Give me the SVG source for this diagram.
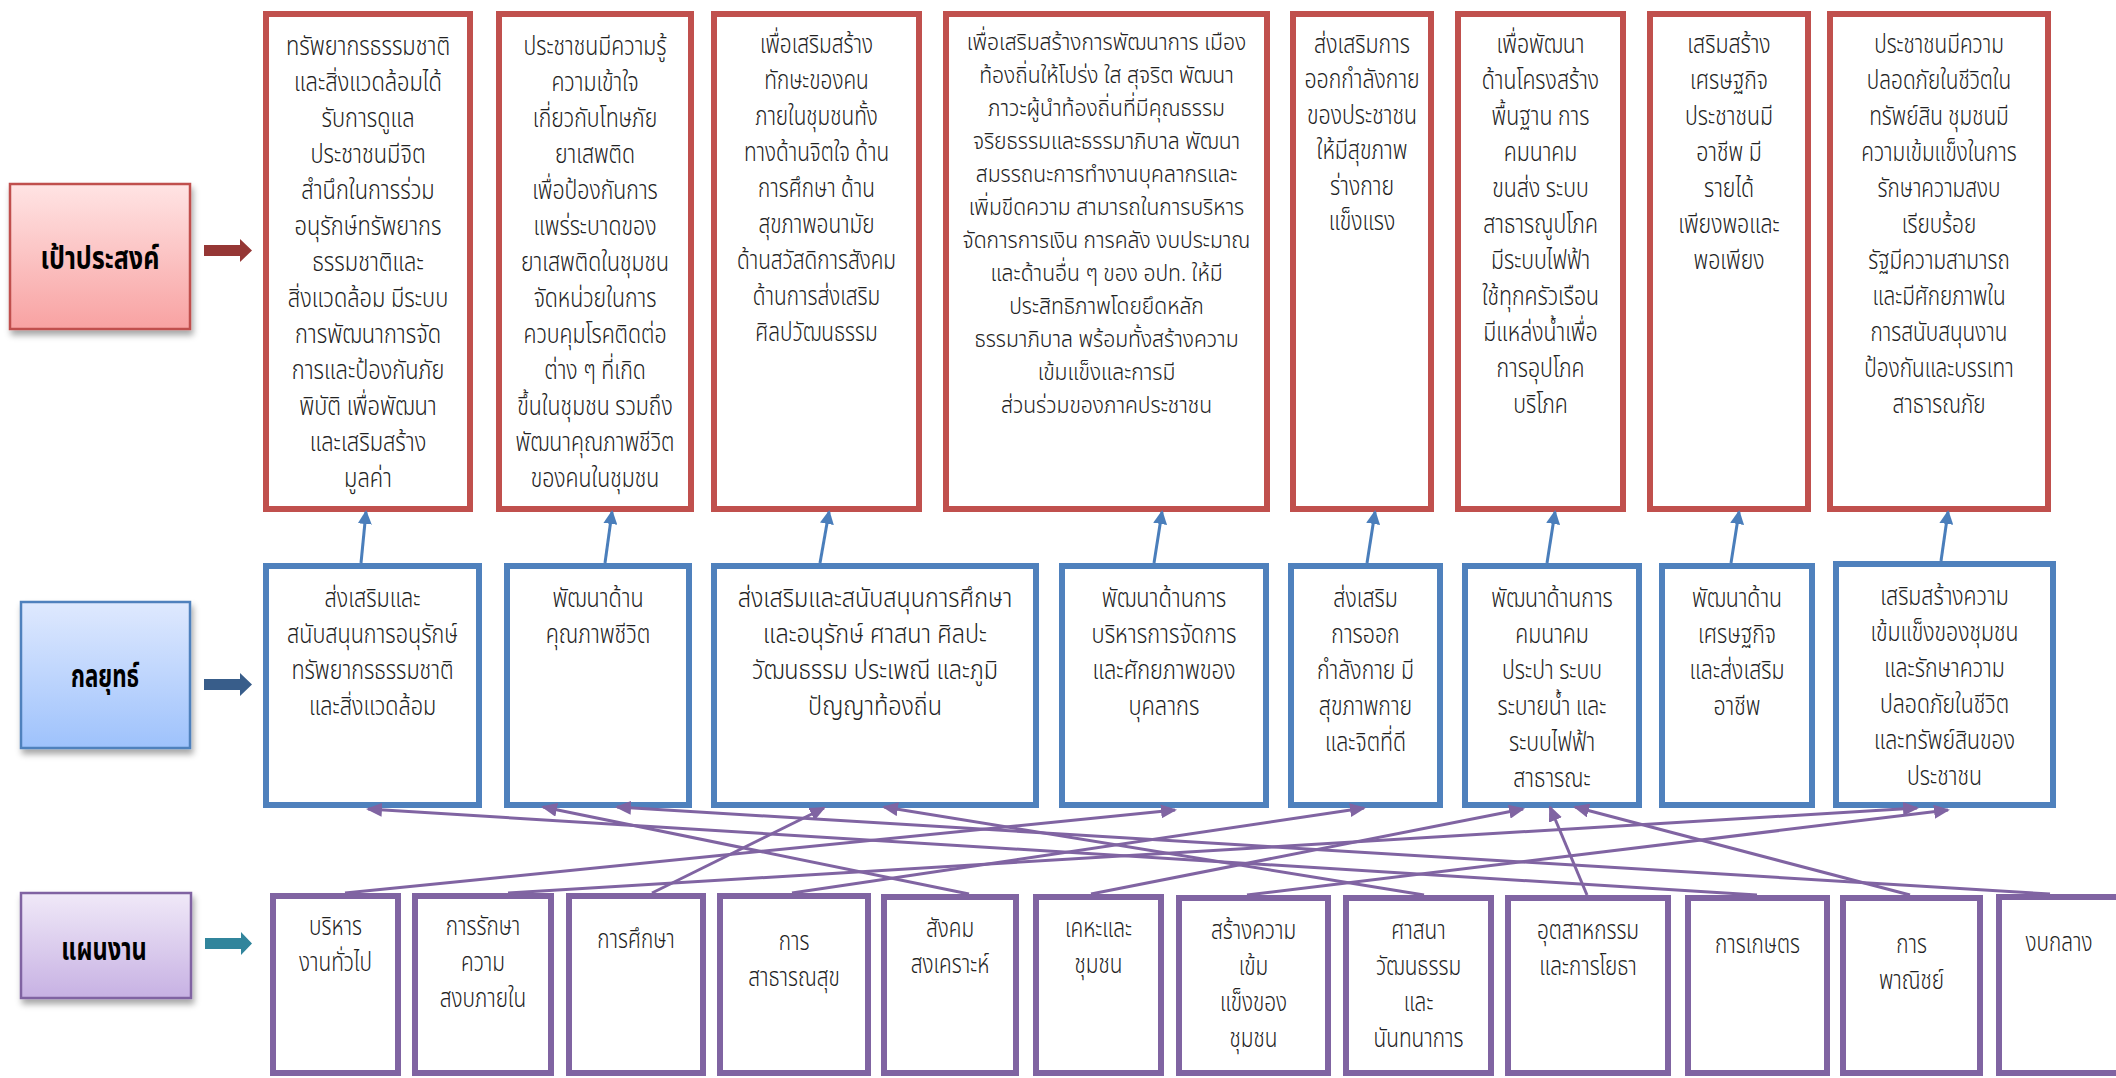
<svg xmlns="http://www.w3.org/2000/svg" width="2116" height="1078" viewBox="0 0 2116 1078">
<defs>
<linearGradient id="gRed" x1="0" y1="0" x2="0" y2="1"><stop offset="0" stop-color="#FFE4E4"/><stop offset="1" stop-color="#F8A2A2"/></linearGradient>
<linearGradient id="gBlue" x1="0" y1="0" x2="0" y2="1"><stop offset="0" stop-color="#DFE9FE"/><stop offset="1" stop-color="#9EC2FC"/></linearGradient>
<linearGradient id="gPur" x1="0" y1="0" x2="0" y2="1"><stop offset="0" stop-color="#F0E9F8"/><stop offset="1" stop-color="#C7B1E3"/></linearGradient>
<filter id="sh" x="-20%" y="-20%" width="140%" height="150%"><feDropShadow dx="2" dy="5" stdDeviation="3" flood-color="#000" flood-opacity="0.35"/></filter>
<marker id="mb" viewBox="0 0 14 14" refX="12" refY="7" markerWidth="14" markerHeight="14" markerUnits="userSpaceOnUse" orient="auto"><path d="M0,0 L14,7 L0,14 Z" fill="#4A7EBB"/></marker>
<marker id="mp" viewBox="0 0 16 14" refX="14" refY="7" markerWidth="16" markerHeight="14" markerUnits="userSpaceOnUse" orient="auto"><path d="M0,0 L16,7 L0,14 Z" fill="#8064A2"/></marker>
</defs>
<style>
.goal{fill:#fff;stroke:#C0504D;stroke-width:6}
.strat{fill:#fff;stroke:#4F81BD;stroke-width:6}
.plan{fill:#fff;stroke:#8064A2;stroke-width:6}
.t{font-family:'Noto Sans Thai','Noto Sans Thai UI',Tahoma,'DejaVu Sans',sans-serif;font-size:26px;font-weight:300;text-anchor:middle;fill:#222}
.ts{font-size:24px}
.tl{font-family:'Noto Sans Thai','Noto Sans Thai UI',Tahoma,'DejaVu Sans',sans-serif;font-size:31px;font-weight:bold;text-anchor:middle;fill:#000}
.cb{fill:none;stroke:#4A7EBB;stroke-width:3;marker-end:url(#mb)}
.cp{fill:none;stroke:#8064A2;stroke-width:3;marker-end:url(#mp)}
</style>
<rect width="2116" height="1078" fill="#fff"/>

<!-- Label nodes -->
<g id="label-goal">
<rect x="10" y="184" width="180" height="145" fill="url(#gRed)" stroke="#C0504D" stroke-width="2.5" filter="url(#sh)"/>
<g transform="translate(100 0) scale(0.81 1)"><text class="tl" x="0" y="269">เป้าประสงค์</text></g>
</g>
<g id="label-strategy">
<rect x="21" y="602" width="169" height="146" fill="url(#gBlue)" stroke="#4F81BD" stroke-width="2.5" filter="url(#sh)"/>
<g transform="translate(105 0) scale(0.72 1)"><text class="tl" x="0" y="687">กลยุทธ์</text></g>
</g>
<g id="label-plan">
<rect x="21" y="893" width="170" height="105" fill="url(#gPur)" stroke="#8064A2" stroke-width="2.5" filter="url(#sh)"/>
<g transform="translate(104 0) scale(0.76 1)"><text class="tl" x="0" y="960">แผนงาน</text></g>
</g>
<g id="label-arrows">
<path d="M204,245 H240 V239 L252,250.5 L240,262 V256 H204 Z" fill="#953735"/>
<path d="M204,679 H240 V673 L252,684.5 L240,696 V690 H204 Z" fill="#385D8A"/>
<path d="M205,938 H241 V932 L252,943.5 L241,955 V949 H205 Z" fill="#31859C"/>
</g>

<!-- Goals row -->
<g id="goal-1"><rect class="goal" x="266" y="14" width="204" height="495"/>
<g transform="translate(368 0) scale(0.84 1)"><text class="t"><tspan x="0" y="55">ทรัพยากรธรรมชาติ</tspan><tspan x="0" y="91">และสิ่งแวดล้อมได้</tspan><tspan x="0" y="127">รับการดูแล</tspan><tspan x="0" y="163">ประชาชนมีจิต</tspan><tspan x="0" y="199">สำนึกในการร่วม</tspan><tspan x="0" y="235">อนุรักษ์ทรัพยากร</tspan><tspan x="0" y="271">ธรรมชาติและ</tspan><tspan x="0" y="307">สิ่งแวดล้อม มีระบบ</tspan><tspan x="0" y="343">การพัฒนาการจัด</tspan><tspan x="0" y="379">การและป้องกันภัย</tspan><tspan x="0" y="415">พิบัติ เพื่อพัฒนา</tspan><tspan x="0" y="451">และเสริมสร้าง</tspan><tspan x="0" y="487">มูลค่า</tspan></text></g></g>
<g id="goal-2"><rect class="goal" x="499" y="14" width="192" height="495"/>
<g transform="translate(595 0) scale(0.82 1)"><text class="t"><tspan x="0" y="55">ประชาชนมีความรู้</tspan><tspan x="0" y="91">ความเข้าใจ</tspan><tspan x="0" y="127">เกี่ยวกับโทษภัย</tspan><tspan x="0" y="163">ยาเสพติด</tspan><tspan x="0" y="199">เพื่อป้องกันการ</tspan><tspan x="0" y="235">แพร่ระบาดของ</tspan><tspan x="0" y="271">ยาเสพติดในชุมชน</tspan><tspan x="0" y="307">จัดหน่วยในการ</tspan><tspan x="0" y="343">ควบคุมโรคติดต่อ</tspan><tspan x="0" y="379">ต่าง ๆ ที่เกิด</tspan><tspan x="0" y="415">ขึ้นในชุมชน รวมถึง</tspan><tspan x="0" y="451">พัฒนาคุณภาพชีวิต</tspan><tspan x="0" y="487">ของคนในชุมชน</tspan></text></g></g>
<g id="goal-3"><rect class="goal" x="714" y="14" width="205" height="495"/>
<g transform="translate(816.5 0) scale(0.8 1)"><text class="t"><tspan x="0" y="53">เพื่อเสริมสร้าง</tspan><tspan x="0" y="89">ทักษะของคน</tspan><tspan x="0" y="125">ภายในชุมชนทั้ง</tspan><tspan x="0" y="161">ทางด้านจิตใจ  ด้าน</tspan><tspan x="0" y="197">การศึกษา  ด้าน</tspan><tspan x="0" y="233">สุขภาพอนามัย</tspan><tspan x="0" y="269">ด้านสวัสดิการสังคม</tspan><tspan x="0" y="305">ด้านการส่งเสริม</tspan><tspan x="0" y="341">ศิลปวัฒนธรรม</tspan></text></g></g>
<g id="goal-4"><rect class="goal" x="946" y="14" width="321" height="495"/>
<g transform="translate(1106.5 0) scale(0.88 1)"><text class="t ts"><tspan x="0" y="50">เพื่อเสริมสร้างการพัฒนาการ เมือง</tspan><tspan x="0" y="83">ท้องถิ่นให้โปร่ง ใส สุจริต พัฒนา</tspan><tspan x="0" y="116">ภาวะผู้นำท้องถิ่นที่มีคุณธรรม</tspan><tspan x="0" y="149">จริยธรรมและธรรมาภิบาล พัฒนา</tspan><tspan x="0" y="182">สมรรถนะการทำงานบุคลากรและ</tspan><tspan x="0" y="215">เพิ่มขีดความ สามารถในการบริหาร</tspan><tspan x="0" y="248">จัดการการเงิน การคลัง งบประมาณ</tspan><tspan x="0" y="281">และด้านอื่น ๆ ของ อปท. ให้มี</tspan><tspan x="0" y="314">ประสิทธิภาพโดยยึดหลัก</tspan><tspan x="0" y="347">ธรรมาภิบาล พร้อมทั้งสร้างความ</tspan><tspan x="0" y="380">เข้มแข็งและการมี</tspan><tspan x="0" y="413">ส่วนร่วมของภาคประชาชน</tspan></text></g></g>
<g id="goal-5"><rect class="goal" x="1293" y="14" width="138" height="495"/>
<g transform="translate(1362 0) scale(0.82 1)"><text class="t"><tspan x="0" y="53">ส่งเสริมการ</tspan><tspan x="0" y="88.5">ออกกำลังกาย</tspan><tspan x="0" y="124">ของประชาชน</tspan><tspan x="0" y="159.5">ให้มีสุขภาพ</tspan><tspan x="0" y="195">ร่างกาย</tspan><tspan x="0" y="230.5">แข็งแรง</tspan></text></g></g>
<g id="goal-6"><rect class="goal" x="1458" y="14" width="165" height="495"/>
<g transform="translate(1540.5 0) scale(0.82 1)"><text class="t"><tspan x="0" y="53">เพื่อพัฒนา</tspan><tspan x="0" y="89">ด้านโครงสร้าง</tspan><tspan x="0" y="125">พื้นฐาน  การ</tspan><tspan x="0" y="161">คมนาคม</tspan><tspan x="0" y="197">ขนส่ง ระบบ</tspan><tspan x="0" y="233">สาธารณูปโภค</tspan><tspan x="0" y="269">มีระบบไฟฟ้า</tspan><tspan x="0" y="305">ใช้ทุกครัวเรือน</tspan><tspan x="0" y="341">มีแหล่งน้ำเพื่อ</tspan><tspan x="0" y="377">การอุปโภค</tspan><tspan x="0" y="413">บริโภค</tspan></text></g></g>
<g id="goal-7"><rect class="goal" x="1650" y="14" width="158" height="495"/>
<g transform="translate(1729 0) scale(0.82 1)"><text class="t"><tspan x="0" y="53">เสริมสร้าง</tspan><tspan x="0" y="89">เศรษฐกิจ</tspan><tspan x="0" y="125">ประชาชนมี</tspan><tspan x="0" y="161">อาชีพ มี</tspan><tspan x="0" y="197">รายได้</tspan><tspan x="0" y="233">เพียงพอและ</tspan><tspan x="0" y="269">พอเพียง</tspan></text></g></g>
<g id="goal-8"><rect class="goal" x="1830" y="14" width="218" height="495"/>
<g transform="translate(1939 0) scale(0.8 1)"><text class="t"><tspan x="0" y="53">ประชาชนมีความ</tspan><tspan x="0" y="89">ปลอดภัยในชีวิตใน</tspan><tspan x="0" y="125">ทรัพย์สิน ชุมชนมี</tspan><tspan x="0" y="161">ความเข้มแข็งในการ</tspan><tspan x="0" y="197">รักษาความสงบ</tspan><tspan x="0" y="233">เรียบร้อย</tspan><tspan x="0" y="269">รัฐมีความสามารถ</tspan><tspan x="0" y="305">และมีศักยภาพใน</tspan><tspan x="0" y="341">การสนับสนุนงาน</tspan><tspan x="0" y="377">ป้องกันและบรรเทา</tspan><tspan x="0" y="413">สาธารณภัย</tspan></text></g></g>

<!-- Strategy row -->
<g id="strategy-1"><rect class="strat" x="266" y="566" width="213" height="239"/>
<g transform="translate(372.5 0) scale(0.83 1)"><text class="t"><tspan x="0" y="607">ส่งเสริมและ</tspan><tspan x="0" y="643">สนับสนุนการอนุรักษ์</tspan><tspan x="0" y="679">ทรัพยากรธรรมชาติ</tspan><tspan x="0" y="715">และสิ่งแวดล้อม</tspan></text></g></g>
<g id="strategy-2"><rect class="strat" x="507" y="566" width="182" height="239"/>
<g transform="translate(598 0) scale(0.83 1)"><text class="t"><tspan x="0" y="607">พัฒนาด้าน</tspan><tspan x="0" y="643">คุณภาพชีวิต</tspan></text></g></g>
<g id="strategy-3"><rect class="strat" x="714" y="566" width="322" height="239"/>
<g transform="translate(875 0) scale(0.9 1)"><text class="t"><tspan x="0" y="607">ส่งเสริมและสนับสนุนการศึกษา</tspan><tspan x="0" y="643">และอนุรักษ์ ศาสนา ศิลปะ</tspan><tspan x="0" y="679">วัฒนธรรม ประเพณี และภูมิ</tspan><tspan x="0" y="715">ปัญญาท้องถิ่น</tspan></text></g></g>
<g id="strategy-4"><rect class="strat" x="1062" y="566" width="204" height="239"/>
<g transform="translate(1164 0) scale(0.84 1)"><text class="t"><tspan x="0" y="607">พัฒนาด้านการ</tspan><tspan x="0" y="643">บริหารการจัดการ</tspan><tspan x="0" y="679">และศักยภาพของ</tspan><tspan x="0" y="715">บุคลากร</tspan></text></g></g>
<g id="strategy-5"><rect class="strat" x="1291" y="566" width="149" height="239"/>
<g transform="translate(1365.5 0) scale(0.82 1)"><text class="t"><tspan x="0" y="607">ส่งเสริม</tspan><tspan x="0" y="643">การออก</tspan><tspan x="0" y="679">กำลังกาย  มี</tspan><tspan x="0" y="715">สุขภาพกาย</tspan><tspan x="0" y="751">และจิตที่ดี</tspan></text></g></g>
<g id="strategy-6"><rect class="strat" x="1465" y="566" width="174" height="239"/>
<g transform="translate(1552 0) scale(0.82 1)"><text class="t"><tspan x="0" y="607">พัฒนาด้านการ</tspan><tspan x="0" y="643">คมนาคม</tspan><tspan x="0" y="679">ประปา ระบบ</tspan><tspan x="0" y="715">ระบายน้ำ และ</tspan><tspan x="0" y="751">ระบบไฟฟ้า</tspan><tspan x="0" y="787">สาธารณะ</tspan></text></g></g>
<g id="strategy-7"><rect class="strat" x="1662" y="566" width="150" height="239"/>
<g transform="translate(1737 0) scale(0.82 1)"><text class="t"><tspan x="0" y="607">พัฒนาด้าน</tspan><tspan x="0" y="643">เศรษฐกิจ</tspan><tspan x="0" y="679">และส่งเสริม</tspan><tspan x="0" y="715">อาชีพ</tspan></text></g></g>
<g id="strategy-8"><rect class="strat" x="1836" y="564" width="217" height="241"/>
<g transform="translate(1944.5 0) scale(0.82 1)"><text class="t"><tspan x="0" y="605">เสริมสร้างความ</tspan><tspan x="0" y="641">เข้มแข็งของชุมชน</tspan><tspan x="0" y="677">และรักษาความ</tspan><tspan x="0" y="713">ปลอดภัยในชีวิต</tspan><tspan x="0" y="749">และทรัพย์สินของ</tspan><tspan x="0" y="785">ประชาชน</tspan></text></g></g>

<!-- Plan row -->
<g id="plan-1"><rect class="plan" x="273" y="896" width="125" height="177"/>
<g transform="translate(335.5 0) scale(0.8 1)"><text class="t"><tspan x="0" y="935">บริหาร</tspan><tspan x="0" y="971">งานทั่วไป</tspan></text></g></g>
<g id="plan-2"><rect class="plan" x="415" y="896" width="136" height="177"/>
<g transform="translate(483 0) scale(0.8 1)"><text class="t"><tspan x="0" y="935">การรักษา</tspan><tspan x="0" y="971">ความ</tspan><tspan x="0" y="1007">สงบภายใน</tspan></text></g></g>
<g id="plan-3"><rect class="plan" x="569" y="896" width="134" height="177"/>
<g transform="translate(636 0) scale(0.8 1)"><text class="t"><tspan x="0" y="948">การศึกษา</tspan></text></g></g>
<g id="plan-4"><rect class="plan" x="720" y="896" width="148" height="177"/>
<g transform="translate(794 0) scale(0.8 1)"><text class="t"><tspan x="0" y="950">การ</tspan><tspan x="0" y="986">สาธารณสุข</tspan></text></g></g>
<g id="plan-5"><rect class="plan" x="884" y="897" width="132" height="176"/>
<g transform="translate(950 0) scale(0.8 1)"><text class="t"><tspan x="0" y="937">สังคม</tspan><tspan x="0" y="973">สงเคราะห์</tspan></text></g></g>
<g id="plan-6"><rect class="plan" x="1036" y="897" width="125" height="176"/>
<g transform="translate(1098.5 0) scale(0.8 1)"><text class="t"><tspan x="0" y="937">เคหะและ</tspan><tspan x="0" y="973">ชุมชน</tspan></text></g></g>
<g id="plan-7"><rect class="plan" x="1179" y="898" width="149" height="175"/>
<g transform="translate(1253.5 0) scale(0.8 1)"><text class="t"><tspan x="0" y="939">สร้างความ</tspan><tspan x="0" y="975">เข้ม</tspan><tspan x="0" y="1011">แข็งของ</tspan><tspan x="0" y="1047">ชุมชน</tspan></text></g></g>
<g id="plan-8"><rect class="plan" x="1346" y="898" width="145" height="175"/>
<g transform="translate(1418.5 0) scale(0.8 1)"><text class="t"><tspan x="0" y="939">ศาสนา</tspan><tspan x="0" y="975">วัฒนธรรม</tspan><tspan x="0" y="1011">และ</tspan><tspan x="0" y="1047">นันทนาการ</tspan></text></g></g>
<g id="plan-9"><rect class="plan" x="1508" y="898" width="160" height="175"/>
<g transform="translate(1588 0) scale(0.8 1)"><text class="t"><tspan x="0" y="939">อุตสาหกรรม</tspan><tspan x="0" y="975">และการโยธา</tspan></text></g></g>
<g id="plan-10"><rect class="plan" x="1688" y="898" width="139" height="175"/>
<g transform="translate(1757.5 0) scale(0.8 1)"><text class="t"><tspan x="0" y="953">การเกษตร</tspan></text></g></g>
<g id="plan-11"><rect class="plan" x="1843" y="898" width="137" height="175"/>
<g transform="translate(1911.5 0) scale(0.8 1)"><text class="t"><tspan x="0" y="953">การ</tspan><tspan x="0" y="989">พาณิชย์</tspan></text></g></g>
<g id="plan-12"><rect class="plan" x="1999" y="897" width="125" height="176"/>
<g transform="translate(2059 0) scale(0.8 1)"><text class="t"><tspan x="0" y="951">งบกลาง</tspan></text></g></g>

<!-- Connectors -->
<g id="connectors">
<line class="cb" x1="361" y1="563" x2="366" y2="512"/>
<line class="cb" x1="605" y1="563" x2="612" y2="512"/>
<line class="cb" x1="820" y1="563" x2="829" y2="512"/>
<line class="cb" x1="1154" y1="563" x2="1162" y2="512"/>
<line class="cb" x1="1367" y1="563" x2="1375" y2="512"/>
<line class="cb" x1="1547" y1="563" x2="1555" y2="512"/>
<line class="cb" x1="1731" y1="563" x2="1739" y2="512"/>
<line class="cb" x1="1941" y1="561" x2="1948" y2="512"/>
<line class="cp" x1="345" y1="893" x2="1175" y2="810"/>
<line class="cp" x1="508" y1="893" x2="1917" y2="808"/>
<line class="cp" x1="652" y1="893" x2="824" y2="808"/>
<line class="cp" x1="792" y1="893" x2="1364" y2="808"/>
<line class="cp" x1="969" y1="894" x2="543" y2="807"/>
<line class="cp" x1="1091" y1="894" x2="1523" y2="809"/>
<line class="cp" x1="1247" y1="895" x2="1948" y2="810"/>
<line class="cp" x1="1424" y1="895" x2="884" y2="807"/>
<line class="cp" x1="1587" y1="895" x2="1550" y2="807"/>
<line class="cp" x1="1757" y1="895" x2="368" y2="809"/>
<line class="cp" x1="1910" y1="895" x2="1575" y2="807"/>
<line class="cp" x1="2050" y1="894" x2="617" y2="807"/>
</g>
</svg>
